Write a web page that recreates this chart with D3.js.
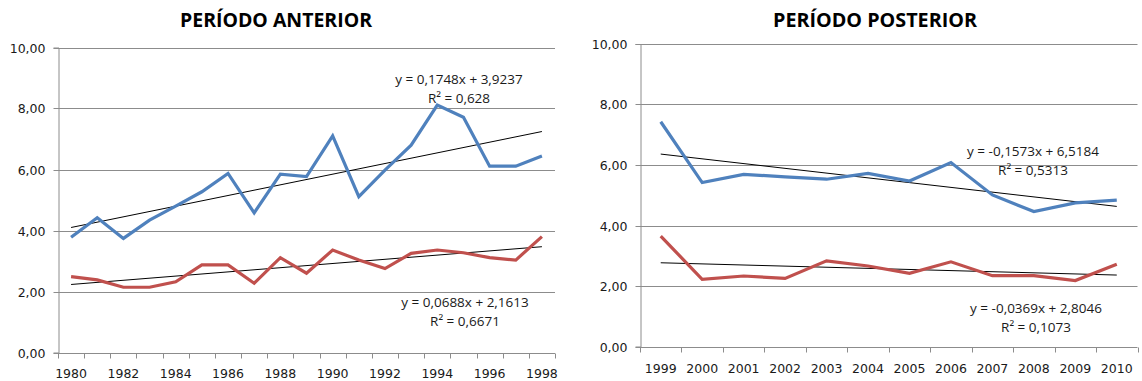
<!DOCTYPE html>
<html>
<head>
<meta charset="utf-8">
<script src="https://cdn.jsdelivr.net/npm/d3@7"></script>
<style>
  html, body { margin: 0; padding: 0; background: #fff; }
  svg { display: block; }
</style>
</head>
<body>
<svg id="chart" width="1142" height="381"></svg>
<script>
// Period 1: 1980–1998
const yearsBefore = d3.range(1980, 1999).map(String);
const blueBefore = [3.78, 4.42, 3.74, 4.34, 4.80, 5.27, 5.87, 4.58, 5.85, 5.77, 7.10, 5.11, 5.98, 6.80, 8.11, 7.71, 6.11, 6.11, 6.44];
const redBefore  = [2.49, 2.38, 2.14, 2.14, 2.32, 2.87, 2.87, 2.27, 3.11, 2.60, 3.36, 3.03, 2.75, 3.25, 3.36, 3.27, 3.11, 3.03, 3.80];

// Period 2: 1999–2010
const yearsAfter = d3.range(1999, 2011).map(String);
const blueAfter = [7.43, 5.42, 5.69, 5.61, 5.53, 5.72, 5.47, 6.08, 5.01, 4.46, 4.75, 4.84];
const redAfter  = [3.65, 2.22, 2.33, 2.25, 2.83, 2.66, 2.42, 2.80, 2.34, 2.34, 2.18, 2.72];

// Linear trend fits: [slope, intercept, R²], x = 1..n
const trendBlueBefore = [0.1748, 3.9237, 0.628];
const trendRedBefore  = [0.0688, 2.1613, 0.6671];
const trendBlueAfter  = [-0.1573, 6.5184, 0.5313];
const trendRedAfter   = [-0.0369, 2.8046, 0.1073];

const yTicks = [0, 2, 4, 6, 8, 10];

const locale = d3.formatLocale({decimal: ",", thousands: ".", grouping: [3], currency: ["", ""]});
const fmt2 = locale.format(".2f");
const fmtCoef = v => String(Math.abs(v)).replace(".", ",");

const svg = d3.select("#chart");
const BLUE = "#4f81bd", RED = "#c0504d", GRID = "#8c8c8c", TEXT = "#1a1a1a";

function panel(opt) {
  const g = svg.append("g");
  const x = d3.scaleBand().domain(opt.years).range([opt.left, opt.right]);
  const y = d3.scaleLinear().domain([0, 10]).range([opt.bottom, opt.top]);
  const cx = d => x(d) + x.bandwidth() / 2;

  // title
  g.append("text")
    .attr("x", opt.titleX).attr("y", 27)
    .attr("text-anchor", "middle")
    .attr("font-family", "'Open Sans', sans-serif")
    .attr("font-weight", 700).attr("font-size", 20)
    .attr("textLength", opt.titleW).attr("lengthAdjust", "spacingAndGlyphs")
    .attr("fill", "#000")
    .text(opt.title);

  // horizontal gridlines
  g.append("g").selectAll("line").data(yTicks.filter(t => t > 0)).join("line")
    .attr("x1", opt.left).attr("x2", opt.right)
    .attr("y1", d => Math.round(y(d)) + 0.5).attr("y2", d => Math.round(y(d)) + 0.5)
    .attr("stroke", GRID).attr("stroke-width", 1);

  // y axis
  const yAxis = d3.axisLeft(y).tickValues(yTicks).tickSize(5).tickPadding(8).tickFormat(fmt2);
  const ya = g.append("g").attr("transform", `translate(${Math.round(opt.left) + 0.5},0)`).call(yAxis);
  ya.select(".domain").attr("stroke", GRID);
  ya.selectAll(".tick line").attr("stroke", GRID);
  ya.selectAll(".tick text")
    .attr("font-family", "'DejaVu Sans', sans-serif").attr("font-size", 12.5).attr("fill", TEXT);
  ya.selectAll(".tick").attr("transform", d => `translate(0,${Math.round(y(d)) + 0.5})`);

  // x axis: tick marks on category boundaries, labels on category centres
  const base = Math.round(opt.bottom) + 0.5;
  const xa = g.append("g");
  xa.append("line").attr("x1", opt.left).attr("x2", opt.right)
    .attr("y1", base).attr("y2", base).attr("stroke", GRID);
  const bounds = opt.years.map(d => x(d)).concat([opt.right]);
  xa.selectAll("line.tk").data(bounds).join("line").attr("class", "tk")
    .attr("x1", d => Math.round(d) + 0.5).attr("x2", d => Math.round(d) + 0.5)
    .attr("y1", base).attr("y2", base + 5).attr("stroke", GRID);
  xa.selectAll("text.lbl").data(opt.years.filter((d, i) => i % opt.labelStep === 0)).join("text")
    .attr("class", "lbl")
    .attr("x", d => cx(d)).attr("y", opt.labelY)
    .attr("text-anchor", "middle")
    .attr("font-family", "'DejaVu Sans', sans-serif").attr("font-size", 12.5).attr("fill", TEXT)
    .text(d => d);

  // trend lines
  const n = opt.years.length;
  [opt.trendBlue, opt.trendRed].forEach(t => {
    const y1 = t[0] * 1 + t[1], y2 = t[0] * n + t[1];
    g.append("line")
      .attr("x1", cx(opt.years[0])).attr("y1", y(y1))
      .attr("x2", cx(opt.years[n - 1])).attr("y2", y(y2))
      .attr("stroke", "#000").attr("stroke-width", 1);
  });

  // series
  const line = d3.line().x((d, i) => cx(opt.years[i])).y(d => y(d));
  [[opt.blue, BLUE], [opt.red, RED]].forEach(([vals, col]) => {
    g.append("path").datum(vals).attr("d", line)
      .attr("fill", "none").attr("stroke", col).attr("stroke-width", 3.2)
      .attr("stroke-linejoin", "miter").attr("stroke-linecap", "butt");
  });

  // trend equations
  const eq = (t, ex, ey) => {
    const sign = t[0] < 0 ? "-" : "";
    const tg = g.append("g").attr("font-family", "'Open Sans', sans-serif").attr("font-size", 13.5)
      .attr("fill", TEXT).attr("text-anchor", "middle");
    tg.append("text").attr("x", ex).attr("y", ey)
      .text(`y = ${sign}${fmtCoef(t[0])}x + ${fmtCoef(t[1])}`);
    tg.append("text").attr("x", ex).attr("y", ey + 19)
      .text(`R² = ${fmtCoef(t[2])}`);
  };
  eq(opt.trendBlue, opt.eqBlue[0], opt.eqBlue[1]);
  eq(opt.trendRed, opt.eqRed[0], opt.eqRed[1]);
}

panel({
  title: "PERÍODO ANTERIOR", titleX: 276, titleW: 192,
  years: yearsBefore, blue: blueBefore, red: redBefore,
  trendBlue: trendBlueBefore, trendRed: trendRedBefore,
  left: 58, right: 555, top: 47.5, bottom: 352.5,
  labelStep: 2, labelY: 377.5,
  eqBlue: [459, 84], eqRed: [465, 307]
});

panel({
  title: "PERÍODO POSTERIOR", titleX: 875, titleW: 204,
  years: yearsAfter, blue: blueAfter, red: redAfter,
  trendBlue: trendBlueAfter, trendRed: trendRedAfter,
  left: 640, right: 1137.5, top: 44, bottom: 346.5,
  labelStep: 1, labelY: 372.5,
  eqBlue: [1033, 156], eqRed: [1036, 313]
});
</script>
</body>
</html>
